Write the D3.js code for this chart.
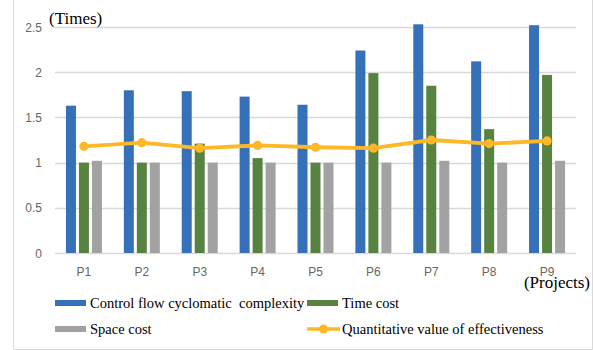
<!DOCTYPE html>
<html><head><meta charset="utf-8">
<script src="https://cdn.jsdelivr.net/npm/d3@7"></script>
<style>body{margin:0;background:#fff}svg{display:block}</style>
</head><body>
<svg id="c" width="593" height="350"></svg>
<script>
const categories = ["P1","P2","P3","P4","P5","P6","P7","P8","P9"];
const complexity = [1.63,1.80,1.79,1.73,1.64,2.24,2.53,2.12,2.52];
const timeCost   = [1.00,1.00,1.21,1.05,1.00,1.99,1.85,1.37,1.97];
const spaceCost  = [1.02,1.00,1.00,1.00,1.00,1.00,1.02,1.00,1.02];
const effectiveness = [1.18,1.22,1.16,1.19,1.17,1.16,1.25,1.21,1.24];
const yTicks = [0,0.5,1,1.5,2,2.5];
const seriesNames = ["Control flow cyclomatic  complexity","Time cost","Space cost","Quantitative value of effectiveness"];
const colors = ["#3670B8","#578240","#A2A2A2","#FDB827"];

const svg = d3.select("#c");
// border
svg.append("path").attr("d","M13.5,0 V349.5 H592.5 V0").attr("fill","none").attr("stroke","#d9d9d9").attr("stroke-width",1);

const x = d3.scaleBand().domain(categories).range([55,576]);
const y = d3.scaleLinear().domain([0,2.5]).range([253,27]);

// grid
svg.append("g").selectAll("line").data(yTicks).join("line")
  .attr("x1",55).attr("x2",576).attr("y1",d=>Math.round(y(d))+0.5).attr("y2",d=>Math.round(y(d))+0.5)
  .attr("stroke","#d9d9d9").attr("stroke-width",1.3);

// y tick labels
svg.append("g").selectAll("text").data(yTicks).join("text")
  .attr("x",42).attr("y",d=>y(d)+4.5).attr("text-anchor","end")
  .attr("font-family","Liberation Sans, Arial, sans-serif").attr("font-size",12).attr("fill","#666")
  .text(d=>d);

// x labels
svg.append("g").selectAll("text").data(categories).join("text")
  .attr("x",d=>x(d)+x.bandwidth()/2).attr("y",276).attr("text-anchor","middle")
  .attr("font-family","Liberation Sans, Arial, sans-serif").attr("font-size",12).attr("fill","#666")
  .text(d=>d);

const bw = x.bandwidth()*0.1727, step = bw*1.3;
const barSeries = [complexity,timeCost,spaceCost];
barSeries.forEach((vals,si)=>{
  svg.append("g").selectAll("rect").data(vals).join("rect")
    .attr("x",(d,i)=>x(categories[i])+x.bandwidth()/2 + (si-1)*step - bw/2)
    .attr("width",bw)
    .attr("y",d=>y(d)).attr("height",d=>y(0)-y(d))
    .attr("fill",colors[si]);
});

// line
const line = d3.line().x((d,i)=>x(categories[i])+x.bandwidth()/2).y(d=>y(d));
svg.append("path").datum(effectiveness).attr("d",line).attr("fill","none")
  .attr("stroke",colors[3]).attr("stroke-width",3.8).attr("stroke-linejoin","round");
svg.append("g").selectAll("circle").data(effectiveness).join("circle")
  .attr("cx",(d,i)=>x(categories[i])+x.bandwidth()/2).attr("cy",d=>y(d)).attr("r",4.6)
  .attr("fill",colors[3]);

// axis titles
svg.append("text").attr("x",49).attr("y",24).attr("font-family","Liberation Serif, Times New Roman, serif")
  .attr("font-size",17).attr("fill","#000").text("(Times)");
svg.append("text").attr("x",590).attr("y",288).attr("text-anchor","end").attr("font-family","Liberation Serif, Times New Roman, serif")
  .attr("font-size",17).attr("fill","#000").text("(Projects)");

// legend
const leg = [
  {name:seriesNames[0],c:colors[0],x:55,y:303,type:"rect"},
  {name:seriesNames[1],c:colors[1],x:307,y:303,type:"rect"},
  {name:seriesNames[2],c:colors[2],x:55,y:329,type:"rect"},
  {name:seriesNames[3],c:colors[3],x:307,y:329,type:"line"}
];
leg.forEach(l=>{
  if(l.type==="rect"){
    svg.append("rect").attr("x",l.x).attr("y",l.y-3).attr("width",31).attr("height",6).attr("fill",l.c);
  } else {
    svg.append("line").attr("x1",l.x).attr("x2",l.x+33).attr("y1",l.y).attr("y2",l.y).attr("stroke",l.c).attr("stroke-width",3.5);
    svg.append("circle").attr("cx",l.x+16.5).attr("cy",l.y).attr("r",4.5).attr("fill",l.c);
  }
  svg.append("text").attr("x",l.x+35).attr("y",l.y+5)
    .attr("font-family","Liberation Serif, Times New Roman, serif").attr("font-size",14.5).attr("fill","#000")
    .attr("xml:space","preserve").style("white-space","pre").text(l.name);
});
</script>
</body></html>
